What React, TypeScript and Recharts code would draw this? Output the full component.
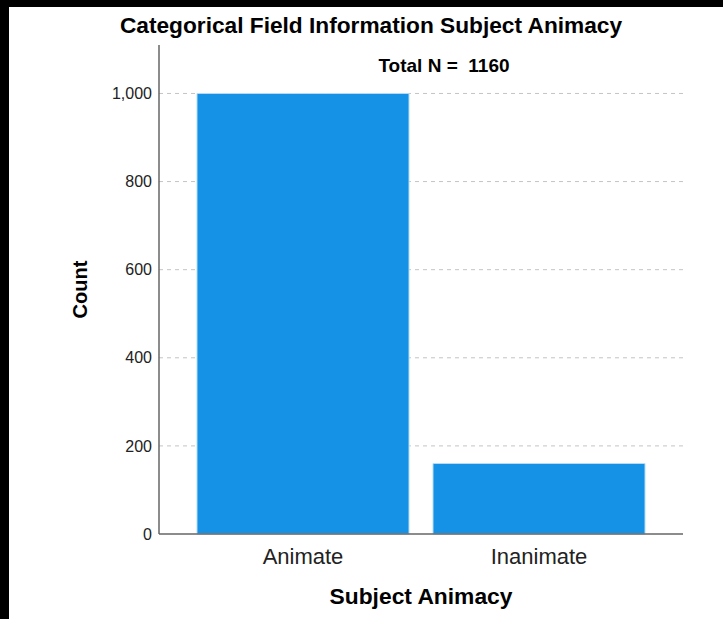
import { BarChart, Bar, XAxis, YAxis, CartesianGrid, Label } from "recharts";

const categories = ["Animate", "Inanimate"];
const counts = [1000, 160];
const yTicks = [0, 200, 400, 600, 800, 1000];
const totalN = 1160;

const data = categories.map((name, i) => ({ name, count: counts[i] }));

const FONT = "'Liberation Sans', Arial, sans-serif";
const BAR_COLOR = "#1591e6";
const AXIS_COLOR = "#666";

const App = () => {
  return (
    <div
      style={{
        position: "absolute",
        left: 0,
        top: 0,
        width: 723,
        height: 619,
        background: "#000",
        fontFamily: FONT,
      }}
    >
      <div
        style={{
          position: "absolute",
          left: 9,
          top: 7,
          width: 714,
          height: 612,
          background: "#fff",
        }}
      />
      <div style={{ position: "absolute", left: 0, top: 0 }}>
        <BarChart
          width={723}
          height={619}
          data={data}
          margin={{ top: 45, right: 40, left: 0, bottom: 15 }}
          barCategoryGap={12}
        >
          <CartesianGrid
            vertical={false}
            horizontalValues={yTicks.filter((t) => t > 0)}
            stroke="#c4c4c4"
            strokeDasharray="4 4"
          />
          <YAxis
            width={159}
            domain={[0, 1110]}
            ticks={yTicks}
            tickFormatter={(v: number) => v.toLocaleString("en-US")}
            tick={{ fontSize: 16, fill: "#222", fontFamily: FONT }}
            tickLine={false}
            tickMargin={1}
            stroke={AXIS_COLOR}
            strokeWidth={1.5}
          >
            <Label
              value="Count"
              angle={-90}
              position="insideLeft"
              offset={80}
              style={{
                textAnchor: "middle",
                fontSize: 20,
                fontWeight: "bold",
                fill: "#000",
                fontFamily: FONT,
              }}
            />
          </YAxis>
          <XAxis
            dataKey="name"
            height={70}
            padding={{ left: 26, right: 26 }}
            tick={{ fontSize: 22, fill: "#222", fontFamily: FONT }}
            tickLine={false}
            tickMargin={8}
            stroke={AXIS_COLOR}
            strokeWidth={1.5}
          >
            <Label
              value="Subject Animacy"
              position="insideBottom"
              offset={0}
              style={{
                fontSize: 22.8,
                fontWeight: "bold",
                fill: "#000",
                fontFamily: FONT,
              }}
            />
          </XAxis>
          <Bar
            dataKey="count"
            fill={BAR_COLOR}
            stroke="#b5dcf7"
            strokeWidth={1}
            isAnimationActive={false}
          />
        </BarChart>
      </div>
      <svg
        width={723}
        height={619}
        style={{ position: "absolute", left: 0, top: 0, pointerEvents: "none" }}
      >
        <text
          x={371}
          y={33}
          textAnchor="middle"
          fontSize={22.7}
          fontWeight="bold"
          fontFamily={FONT}
          fill="#000"
        >
          Categorical Field Information Subject Animacy
        </text>
        <text
          x={444}
          y={72}
          textAnchor="middle"
          fontSize={19}
          fontWeight="bold"
          fontFamily={FONT}
          fill="#000"
          style={{ whiteSpace: "pre" }}
        >
          {`Total N =  ${totalN}`}
        </text>
      </svg>
    </div>
  );
};

export default App;
